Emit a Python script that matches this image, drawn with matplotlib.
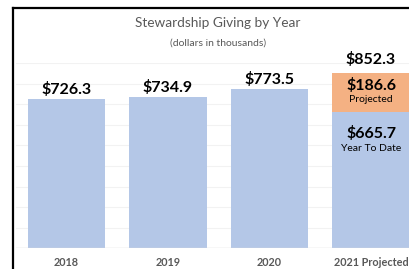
import matplotlib.pyplot as plt
from matplotlib.lines import Line2D

plt.rcParams['font.family'] = ['Lato', 'DejaVu Sans']

# data (dollars in thousands)
years = ['2018', '2019', '2020', '2021 Projected']
totals = [726.3, 734.9, 773.5, 665.7]
projected = [0, 0, 0, 186.6]
labels = ['$726.3', '$734.9', '$773.5', '$852.3']

blue = '#b4c7e7'
orange = '#f4b183'
grey = '#595959'

W, H = 409, 269
fig = plt.figure(figsize=(W / 100, H / 100), dpi=100)

# axes extends past the right edge (chart is cropped in the reference)
left = 15.75 / W
bottom = (H - 248) / H
ax = fig.add_axes([left, bottom, 4 * 101.5 / W, 184.5 / H])

x = range(len(years))
ax.bar(x, totals, width=0.76, color=blue, zorder=2)
ax.bar(x, projected, width=0.76, bottom=totals, color=orange, zorder=2)

ax.set_xlim(-0.5, 3.5)
ax.set_ylim(0, 900)
ax.set_yticks(range(100, 901, 100))
ax.yaxis.grid(True, color='#f2f2f2', lw=0.8, zorder=0)
ax.axhline(0, color='#d9d9d9', lw=1, zorder=3)
for s in ax.spines.values():
    s.set_visible(False)
ax.tick_params(left=False, bottom=False, labelleft=False, labelbottom=False)

# value labels above the bars
for i in range(len(years)):
    top = totals[i] + projected[i]
    off = 10 if i < 3 else 14
    ax.annotate(labels[i], (i, top), xytext=(0, off), textcoords='offset pixels',
                ha='center', va='center', fontsize=11.5, fontweight='bold',
                color='black', annotation_clip=False)

# labels inside the 2021 stack
ax.annotate('$186.6', (3, totals[3] + projected[3]), xytext=(0, -12), textcoords='offset pixels',
            ha='center', va='center', fontsize=11.5, fontweight='bold', annotation_clip=False)
ax.annotate('Projected', (3, totals[3] + projected[3]), xytext=(0, -26), textcoords='offset pixels',
            ha='center', va='center', fontsize=7.5, annotation_clip=False)
ax.annotate('$665.7', (3, totals[3]), xytext=(0, -22), textcoords='offset pixels',
            ha='center', va='center', fontsize=11.5, fontweight='bold', annotation_clip=False)
ax.annotate('Year To Date', (3, totals[3]), xytext=(0, -37), textcoords='offset pixels',
            ha='center', va='center', fontsize=7.5, annotation_clip=False)

# category labels
for i, yr in enumerate(years):
    ax.annotate(yr, (i, 0), xytext=(0, -15), textcoords='offset pixels',
                ha='center', va='center', fontsize=7.8, fontweight='bold',
                color=grey, annotation_clip=False)

# title
fig.text(218 / W, 1 - 23 / H, 'Stewardship Giving by Year', ha='center', va='center',
         fontsize=9.8, color=grey)
fig.text(218 / W, 1 - 43 / H, '(dollars in thousands)', ha='center', va='center',
         fontsize=7.5, color=grey)

# black frame (left and top edges)
fig.add_artist(Line2D([13 / W, 13 / W], [0, 1 - 8 / H], color='black', lw=1.6,
                      solid_capstyle='projecting'))
fig.add_artist(Line2D([13 / W, 1], [1 - 8 / H, 1 - 8 / H], color='black', lw=1.6,
                      solid_capstyle='projecting'))

fig.savefig('out.png', dpi=100)
